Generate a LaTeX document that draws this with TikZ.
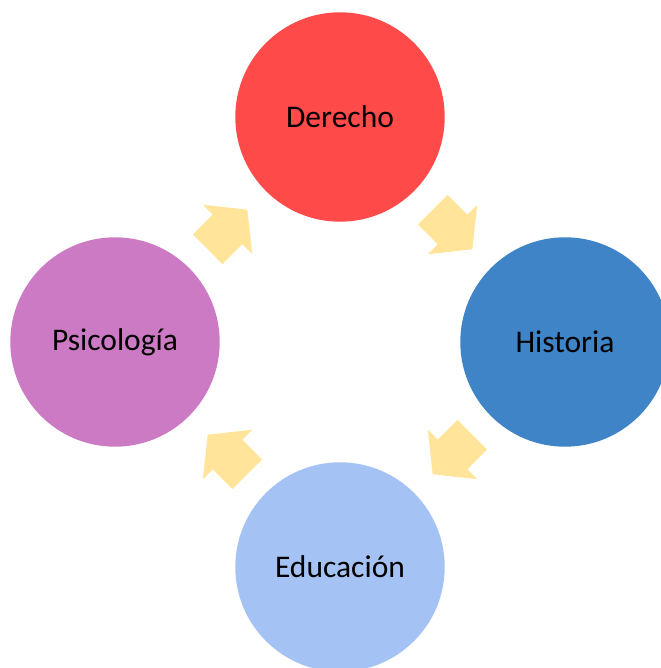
\documentclass[tikz,border=0pt]{standalone}
\usepackage{fontspec}
\setmainfont{Carlito}
\usetikzlibrary{calc}

\definecolor{rojo}{HTML}{FF4A4A}
\definecolor{azul}{HTML}{3E84C6}
\definecolor{celeste}{HTML}{A4C2F4}
\definecolor{malva}{HTML}{CC7AC4}
\definecolor{amarillo}{HTML}{FFE499}

\begin{document}
\begin{tikzpicture}[x=1pt, y=1pt,
	tema/.style={circle, minimum size=209.4pt, inner sep=0pt, font=\fontsize{31.5}{37}\selectfont},
	flecha/.style={fill=amarillo}]
	\useasboundingbox (0,0) rectangle (660,668);
	%%%	Circulos
	\node[tema, fill=rojo] (derecho) at (340,551) {Derecho};
	\node[tema, fill=azul] (historia) at (565,326) {Historia};
	\node[tema, fill=celeste] (educa) at (340,101) {Educación};
	\node[tema, fill=malva] (psico) at (115,326) {Psicología};
	
	%%%	Flechas
	\foreach \a/\b/\ang in {psico/derecho/45, derecho/historia/-45, historia/educa/-135, educa/psico/135}
	{
		\begin{scope}[shift={($(\a)!0.5!(\b)$)}, rotate=\ang]
			\fill[flecha] (-28,-21) -- (0,-21) -- (0,-35) -- (28,0) -- (0,35) -- (0,21) -- (-28,21) -- cycle;
		\end{scope}
	}
	
\end{tikzpicture}
\end{document}
